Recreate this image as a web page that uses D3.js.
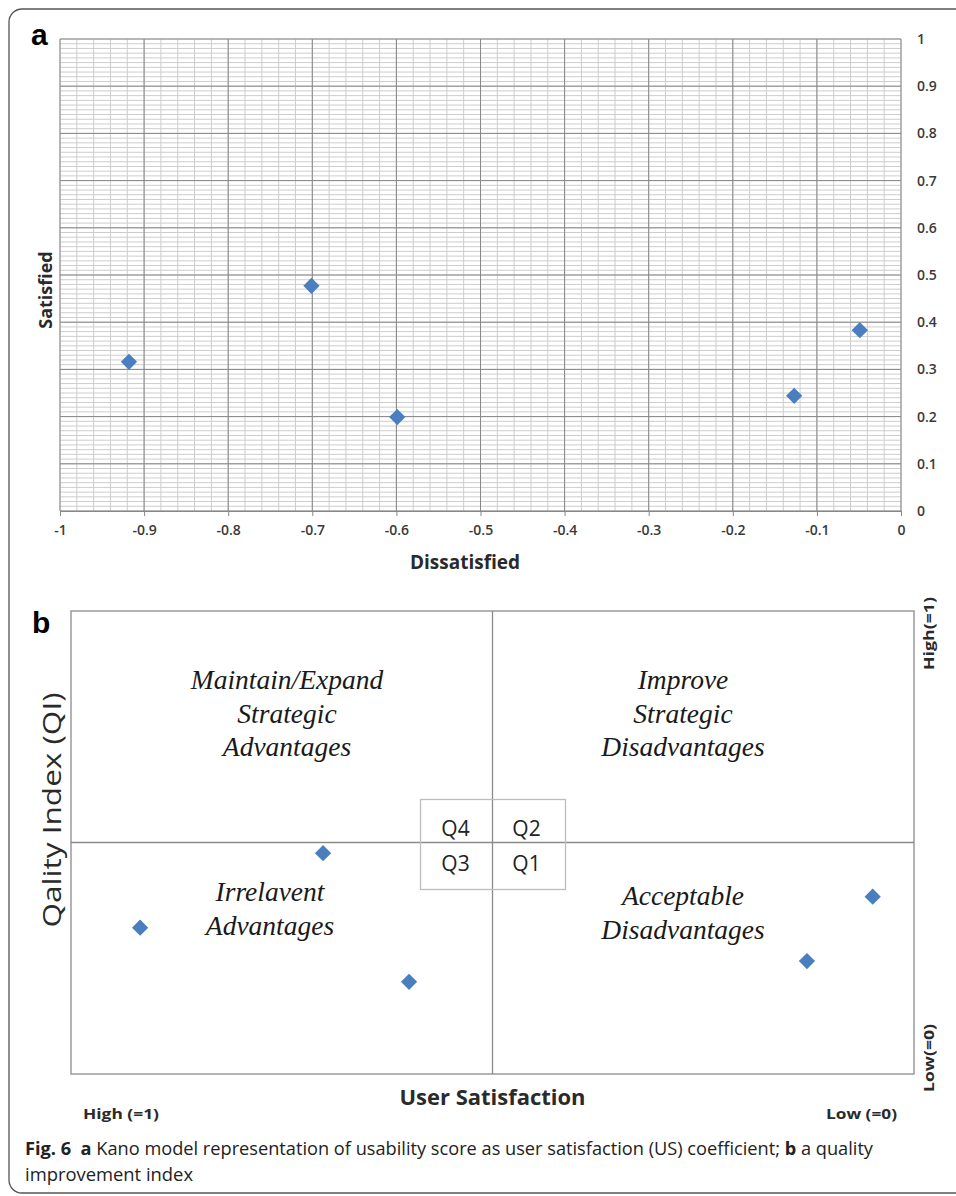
<!DOCTYPE html>
<html><head><meta charset="utf-8">
<script src="https://cdn.jsdelivr.net/npm/d3@7"></script>
<style>body{margin:0;background:#fff} svg{display:block}</style>
</head><body><svg id="c" width="956" height="1196"></svg>
<script>
// ---- data ----
const dissatisfied = [-0.918, -0.701, -0.599, -0.127, -0.049];
const satisfied    = [0.316, 0.477, 0.199, 0.244, 0.383];
const xTickValues = [-1, -0.9, -0.8, -0.7, -0.6, -0.5, -0.4, -0.3, -0.2, -0.1, 0];
const yTickValues = [0, 0.1, 0.2, 0.3, 0.4, 0.5, 0.6, 0.7, 0.8, 0.9, 1];
const xAxisTitle = "Dissatisfied";
const yAxisTitle = "Satisfied";
const quadrantTitles = [
  ["Maintain/Expand", "Strategic", "Advantages"],
  ["Improve", "Strategic", "Disadvantages"],
  ["Irrelavent", "Advantages"],
  ["Acceptable", "Disadvantages"]
];
const quadrantCodes = ["Q4", "Q2", "Q3", "Q1"];
const bXTitle = "User Satisfaction";
const bYTitle = "Qality Index (QI)";
const bXEnds = ["High (=1)", "Low (=0)"];
const bYEnds = ["High(=1)", "Low(=0)"];

const svg = d3.select("#c");
const blue = "#4a7ebf";
const labelFont = "'Open Sans', 'DejaVu Sans', sans-serif";
const fmt = d => String(+d.toFixed(1));

// outer rounded frame
svg.append("rect").attr("x", 9).attr("y", 9).attr("width", 980).attr("height", 1184)
  .attr("rx", 13).attr("fill", "none").attr("stroke", "#555").attr("stroke-width", 1.3);

// panel labels
svg.append("text").attr("x", 31).attr("y", 45).text("a")
  .attr("font-family", "'Liberation Sans', Arial, sans-serif").attr("font-weight", "bold").attr("font-size", 30);
svg.append("text").attr("x", 32).attr("y", 633).text("b")
  .attr("font-family", "'Liberation Sans', Arial, sans-serif").attr("font-weight", "bold").attr("font-size", 30);

// ================= Panel a =================
const xa = d3.scaleLinear().domain([-1, 0]).range([60, 901]);
const ya = d3.scaleLinear().domain([0, 1]).range([511, 39]);
const ga = svg.append("g");

// minor grid
const minorX = d3.range(0, 51).map(i => -1 + i * 0.02);
const minorY = d3.range(0, 101).map(i => i * 0.01);
ga.append("g").attr("stroke", "#cdcdcd").attr("stroke-width", 1)
  .selectAll("line").data(minorY).join("line")
  .attr("x1", xa(-1)).attr("x2", xa(0)).attr("y1", d => ya(d)).attr("y2", d => ya(d));
ga.append("g").attr("stroke", "#cdcdcd").attr("stroke-width", 1)
  .selectAll("line").data(minorX).join("line")
  .attr("y1", ya(0)).attr("y2", ya(1)).attr("x1", d => xa(d)).attr("x2", d => xa(d));
// major grid
ga.append("g").attr("stroke", "#878787").attr("stroke-width", 1)
  .selectAll("line").data(yTickValues).join("line")
  .attr("x1", xa(-1)).attr("x2", xa(0)).attr("y1", d => ya(d)).attr("y2", d => ya(d));
ga.append("g").attr("stroke", "#878787").attr("stroke-width", 1)
  .selectAll("line").data(xTickValues).join("line")
  .attr("y1", ya(0)).attr("y2", ya(1)).attr("x1", d => xa(d)).attr("x2", d => xa(d));

// bottom axis
const xAxis = d3.axisBottom(xa).tickValues(xTickValues).tickSize(5).tickPadding(9).tickFormat(fmt);
const gx = ga.append("g").attr("transform", `translate(0,${ya(0)})`).call(xAxis);
gx.select(".domain").attr("stroke", "#878787");
gx.selectAll(".tick line").attr("stroke", "#878787");
gx.selectAll("text").attr("font-family", labelFont).attr("font-weight", 600)
  .attr("font-size", 14).attr("fill", "#3a3a3a");

// right-side labels
const yAxis = d3.axisRight(ya).tickValues(yTickValues).tickSize(0).tickPadding(16).tickFormat(fmt);
const gy = ga.append("g").attr("transform", `translate(${xa(0)},0)`).call(yAxis);
gy.select(".domain").remove();
gy.selectAll("text").attr("font-family", labelFont).attr("font-weight", 600)
  .attr("font-size", 14).attr("fill", "#3a3a3a");

// titles
ga.append("text").attr("x", 465).attr("y", 569).attr("text-anchor", "middle")
  .attr("font-family", labelFont).attr("font-weight", 700).attr("font-size", 19).attr("fill", "#2a2a2a")
  .text(xAxisTitle);
ga.append("text").attr("transform", "translate(52,290) rotate(-90)").attr("text-anchor", "middle")
  .attr("font-family", labelFont).attr("font-weight", 700).attr("font-size", 18).attr("fill", "#2a2a2a")
  .text(yAxisTitle);

const diamond = d3.symbol().type(d3.symbolSquare).size(132);
const pts = dissatisfied.map((d, i) => ({x: d, y: satisfied[i]}));
ga.selectAll("path.pt").data(pts).join("path").attr("class", "pt")
  .attr("d", diamond).attr("fill", blue)
  .attr("transform", d => `translate(${xa(d.x)},${ya(d.y)}) rotate(45)`);

// ================= Panel b =================
const xb = d3.scaleLinear().domain([-1, 0]).range([71, 914]);
const yb = d3.scaleLinear().domain([0, 1]).range([1074, 611]);
const gb = svg.append("g");
gb.append("rect").attr("x", xb(-1)).attr("y", yb(1)).attr("width", xb(0) - xb(-1)).attr("height", yb(0) - yb(1))
  .attr("fill", "none").attr("stroke", "#9a9a9a").attr("stroke-width", 1.5);
gb.append("line").attr("x1", xb(-0.5)).attr("x2", xb(-0.5)).attr("y1", yb(1)).attr("y2", yb(0))
  .attr("stroke", "#8a8a8a").attr("stroke-width", 1.3);
gb.append("line").attr("x1", xb(-1)).attr("x2", xb(0)).attr("y1", yb(0.5)).attr("y2", yb(0.5))
  .attr("stroke", "#8a8a8a").attr("stroke-width", 1.3);

// Q box
const cx = xb(-0.5), cy = yb(0.5);
gb.append("rect").attr("x", cx - 72).attr("y", cy - 43).attr("width", 145).attr("height", 90)
  .attr("fill", "none").attr("stroke", "#bdbdbd").attr("stroke-width", 1.3);
const qPos = [[-37, -15], [34, -15], [-37, 20], [34, 20]];
gb.selectAll("text.q").data(quadrantCodes).join("text").attr("class", "q")
  .attr("x", (d, i) => cx + qPos[i][0]).attr("y", (d, i) => cy + qPos[i][1])
  .attr("text-anchor", "middle").attr("dominant-baseline", "central")
  .attr("font-family", labelFont).attr("font-size", 21).attr("fill", "#222").text(d => d);

// quadrant titles
const qCenters = [[287, 689], [683, 689], [270, 901], [683, 905]];
quadrantTitles.forEach((lines, i) => {
  const t = gb.append("text").attr("text-anchor", "middle")
    .attr("font-family", "'Liberation Serif', 'Times New Roman', serif").attr("font-style", "italic")
    .attr("font-size", 27.5).attr("fill", "#1a1a1a");
  lines.forEach((ln, j) => {
    t.append("tspan").attr("x", qCenters[i][0]).attr("y", qCenters[i][1] + j * 33.5).text(ln);
  });
});

gb.selectAll("path.pt").data(pts).join("path").attr("class", "pt")
  .attr("d", diamond).attr("fill", blue)
  .attr("transform", d => `translate(${xb(d.x)},${yb(d.y)}) rotate(45)`);

// b axis labels
gb.append("text").attr("x", xb(-0.5)).attr("y", 1105).attr("text-anchor", "middle")
  .attr("font-family", labelFont).attr("font-weight", 700).attr("font-size", 22).attr("fill", "#2a2a2a")
  .attr("textLength", 186).attr("lengthAdjust", "spacingAndGlyphs")
  .text(bXTitle);
gb.append("text").attr("transform", "translate(61,810) rotate(-90)").attr("text-anchor", "middle")
  .attr("font-family", labelFont).attr("font-size", 25).attr("fill", "#2a2a2a")
  .attr("textLength", 235).attr("lengthAdjust", "spacingAndGlyphs")
  .text(bYTitle);
gb.append("text").attr("x", 83).attr("y", 1119)
  .attr("font-family", labelFont).attr("font-weight", 700).attr("font-size", 15).attr("fill", "#2a2a2a")
  .attr("textLength", 76).attr("lengthAdjust", "spacingAndGlyphs").text(bXEnds[0]);
gb.append("text").attr("x", 826).attr("y", 1119)
  .attr("font-family", labelFont).attr("font-weight", 700).attr("font-size", 15).attr("fill", "#2a2a2a")
  .attr("textLength", 71).attr("lengthAdjust", "spacingAndGlyphs").text(bXEnds[1]);
gb.append("text").attr("transform", "translate(934,670) rotate(-90)").attr("text-anchor", "start")
  .attr("font-family", labelFont).attr("font-weight", 700).attr("font-size", 15).attr("fill", "#2a2a2a")
  .attr("textLength", 73).attr("lengthAdjust", "spacingAndGlyphs").text(bYEnds[0]);
gb.append("text").attr("transform", "translate(934,1092) rotate(-90)").attr("text-anchor", "start")
  .attr("font-family", labelFont).attr("font-weight", 700).attr("font-size", 15).attr("fill", "#2a2a2a")
  .attr("textLength", 68).attr("lengthAdjust", "spacingAndGlyphs").text(bYEnds[1]);

// caption
const cap = svg.append("text").attr("x", 25).attr("y", 1155)
  .attr("font-family", labelFont).attr("font-size", 18).attr("fill", "#222")
  .attr("textLength", 848).attr("lengthAdjust", "spacingAndGlyphs");
cap.append("tspan").attr("font-weight", 700).text("Fig. 6");
cap.append("tspan").text("\u00a0 ");
cap.append("tspan").attr("font-weight", 700).text("a");
cap.append("tspan").text(" Kano model representation of usability score as user satisfaction (US) coefficient; ");
cap.append("tspan").attr("font-weight", 700).text("b");
cap.append("tspan").text(" a quality");
svg.append("text").attr("x", 25).attr("y", 1181)
  .attr("font-family", labelFont).attr("font-size", 18).attr("fill", "#222")
  .attr("textLength", 168).attr("lengthAdjust", "spacingAndGlyphs")
  .text("improvement index");
</script></body></html>
